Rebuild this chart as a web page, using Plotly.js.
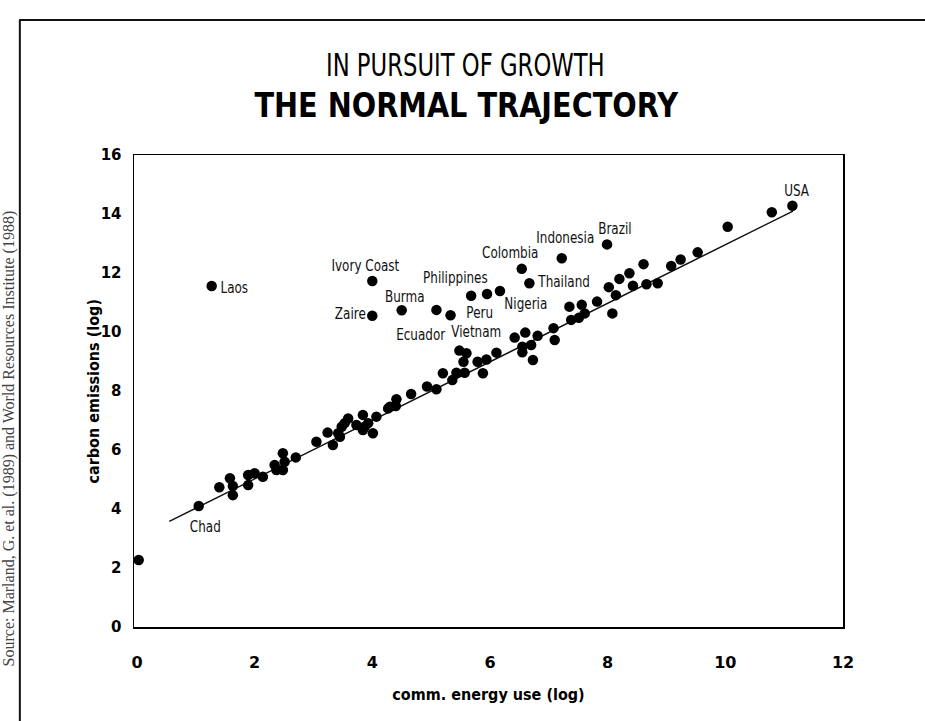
<!DOCTYPE html>
<html>
<head>
<meta charset="utf-8">
<script src="https://cdn.plot.ly/plotly-3.0.1.min.js"></script>
<style>html,body{margin:0;padding:0;background:#fff;}#chart{width:925px;height:721px;}</style>
</head>
<body>
<div id="chart"></div>
<script>
// energy use (log) of each country
const energyUse = [0.03,1.05,1.27,1.40,1.58,1.63,1.63,1.89,2.00,1.89,2.14,2.34,2.48,2.48,2.37,2.51,2.70,3.05,3.24,3.33,3.45,3.48,3.42,3.59,3.53,3.73,3.84,3.93,3.84,4.01,4.07,4.00,4.00,4.30,4.40,4.41,4.27,4.50,4.66,4.93,5.09,5.09,5.20,5.33,5.36,5.43,5.48,5.60,5.55,5.57,5.68,5.79,5.88,5.94,5.95,6.11,6.17,6.42,6.54,6.55,6.55,6.60,6.67,6.70,6.73,6.81,7.08,7.10,7.22,7.35,7.38,7.51,7.56,7.61,7.82,7.99,8.02,8.08,8.14,8.20,8.37,8.43,8.61,8.66,8.85,9.08,9.24,9.53,10.04,10.79,11.14,3.87];
// carbon emissions (log) of each country
const carbonEmissions = [2.27,4.10,11.56,4.74,5.04,4.78,4.47,5.15,5.21,4.81,5.09,5.49,5.89,5.32,5.32,5.60,5.75,6.28,6.59,6.17,6.45,6.79,6.57,7.07,6.91,6.85,7.19,6.91,6.68,6.57,7.13,11.73,10.55,7.47,7.49,7.72,7.41,10.74,7.90,8.15,8.06,10.75,8.60,10.57,8.37,8.62,9.37,9.28,8.99,8.62,11.23,8.99,8.60,9.07,11.29,9.30,11.39,9.81,12.14,9.50,9.31,9.98,11.65,9.56,9.05,9.87,10.13,9.73,12.50,10.86,10.41,10.48,10.92,10.63,11.03,12.97,11.52,10.63,11.25,11.80,11.99,11.57,12.30,11.62,11.65,12.24,12.46,12.70,13.57,14.06,14.28,6.79];
// normal trajectory (fitted line) end points
const trendX = [0.55, 11.15];
const trendY = [3.58, 14.10];
// country labels and their positions
const labelNames = ["Laos","Ivory Coast","Zaire","Burma","Ecuador","Philippines","Peru","Vietnam","Nigeria","Colombia","Thailand","Indonesia","Brazil","USA","Chad"];
const labelX = [1.65,3.89,3.63,4.55,4.82,5.42,5.82,5.77,6.62,6.35,7.25,7.28,8.13,11.22,1.17];
const labelY = [11.49,12.24,10.61,11.19,9.90,11.83,10.64,10.00,10.95,12.68,11.69,13.19,13.49,14.78,3.39];
const xTicks = [0,2,4,6,8,10,12];
const yTicks = [0,2,4,6,8,10,12,14,16];

const sans = "'DejaVu Sans', sans-serif";

const traces = [
  {x: trendX, y: trendY, mode: 'lines', line: {color: '#111', width: 1.5}, hoverinfo: 'skip', showlegend: false},
  {x: energyUse, y: carbonEmissions, mode: 'markers', marker: {color: '#000', size: 10.5}, showlegend: false}
];

const annotations = labelNames.map((n, i) => ({
  x: labelX[i], y: labelY[i], xref: 'x', yref: 'y', text: n, showarrow: false,
  xanchor: 'center', yanchor: 'middle',
  font: {family: sans, size: 15, color: '#111'}
}));
annotations.push({
  xref: 'paper', yref: 'paper', x: 0.467, y: 1.1907, xanchor: 'center', yanchor: 'middle',
  text: 'IN PURSUIT OF GROWTH', showarrow: false,
  font: {family: sans, size: 32, color: '#000'}
});
annotations.push({
  xref: 'paper', yref: 'paper', x: -0.176, y: 0.40, xanchor: 'center', yanchor: 'middle',
  text: 'Source: Marland, G. et al. (1989) and World Resources Institute (1988)',
  textangle: -90, showarrow: false, font: {family: "'Liberation Serif', serif", size: 16, color: '#444'}
});
annotations.push({
  xref: 'paper', yref: 'paper', x: -0.058, y: 0.50, xanchor: 'center', yanchor: 'middle',
  text: 'carbon emissions (log)', textangle: -90, showarrow: false,
  font: {family: sans, size: 16, weight: 'bold', color: '#000'}
});

const layout = {
  width: 925, height: 721,
  margin: {l: 134, r: 82, t: 155, b: 94},
  paper_bgcolor: '#fff', plot_bgcolor: '#fff',
  title: {text: '<b>THE NORMAL TRAJECTORY</b>', x: 0.504, xanchor: 'center', y: 0.8544, yanchor: 'middle',
          font: {family: sans, size: 34, color: '#000'}},
  xaxis: {range: [-0.05, 12], tickvals: xTicks, showgrid: false, zeroline: false, showline: true, mirror: true,
          linecolor: '#000', linewidth: 1.5, ticks: '', ticklabelstandoff: 20,
          tickfont: {family: sans, size: 16, weight: 'bold', color: '#000'},
          title: {text: 'comm. energy use (log)', standoff: 18, font: {family: sans, size: 16, weight: 'bold', color: '#000'}}},
  yaxis: {range: [0, 16], tickvals: yTicks, showgrid: false, zeroline: false, showline: true, mirror: true,
          linecolor: '#000', linewidth: 1.5, ticks: '', ticklabelstandoff: 8,
          tickfont: {family: sans, size: 15, weight: 'bold', color: '#000'}},
  shapes: [
    {type: 'line', xref: 'paper', yref: 'paper', x0: -0.162, x1: 1.12, y0: 1.286, y1: 1.286, line: {color: '#111', width: 2}},
    {type: 'line', xref: 'paper', yref: 'paper', x0: -0.161, x1: -0.161, y0: 1.286, y1: -0.2, line: {color: '#111', width: 2}}
  ],
  annotations: annotations
};

function condense(el, k) {
  el.style.transformBox = 'fill-box';
  el.style.transformOrigin = 'center';
  el.style.transform = 'scaleX(' + k + ')';
}

Plotly.newPlot('chart', traces, layout, {displayModeBar: false, staticPlot: true}).then(gd => {
  const t = gd.querySelector('.gtitle');
  if (t) condense(t, 0.845);
  gd.querySelectorAll('.annotation-text').forEach(el => {
    const s = el.textContent;
    if (s.indexOf('IN PURSUIT') === 0) condense(el, 0.71);
    else if (labelNames.indexOf(s) >= 0) condense(el, 0.8);
    else if (s.indexOf('carbon') === 0) condense(el, 0.9);
  });
  const xt = gd.querySelector('.xtitle');
  if (xt) condense(xt, 0.9);
});
</script>
</body>
</html>
